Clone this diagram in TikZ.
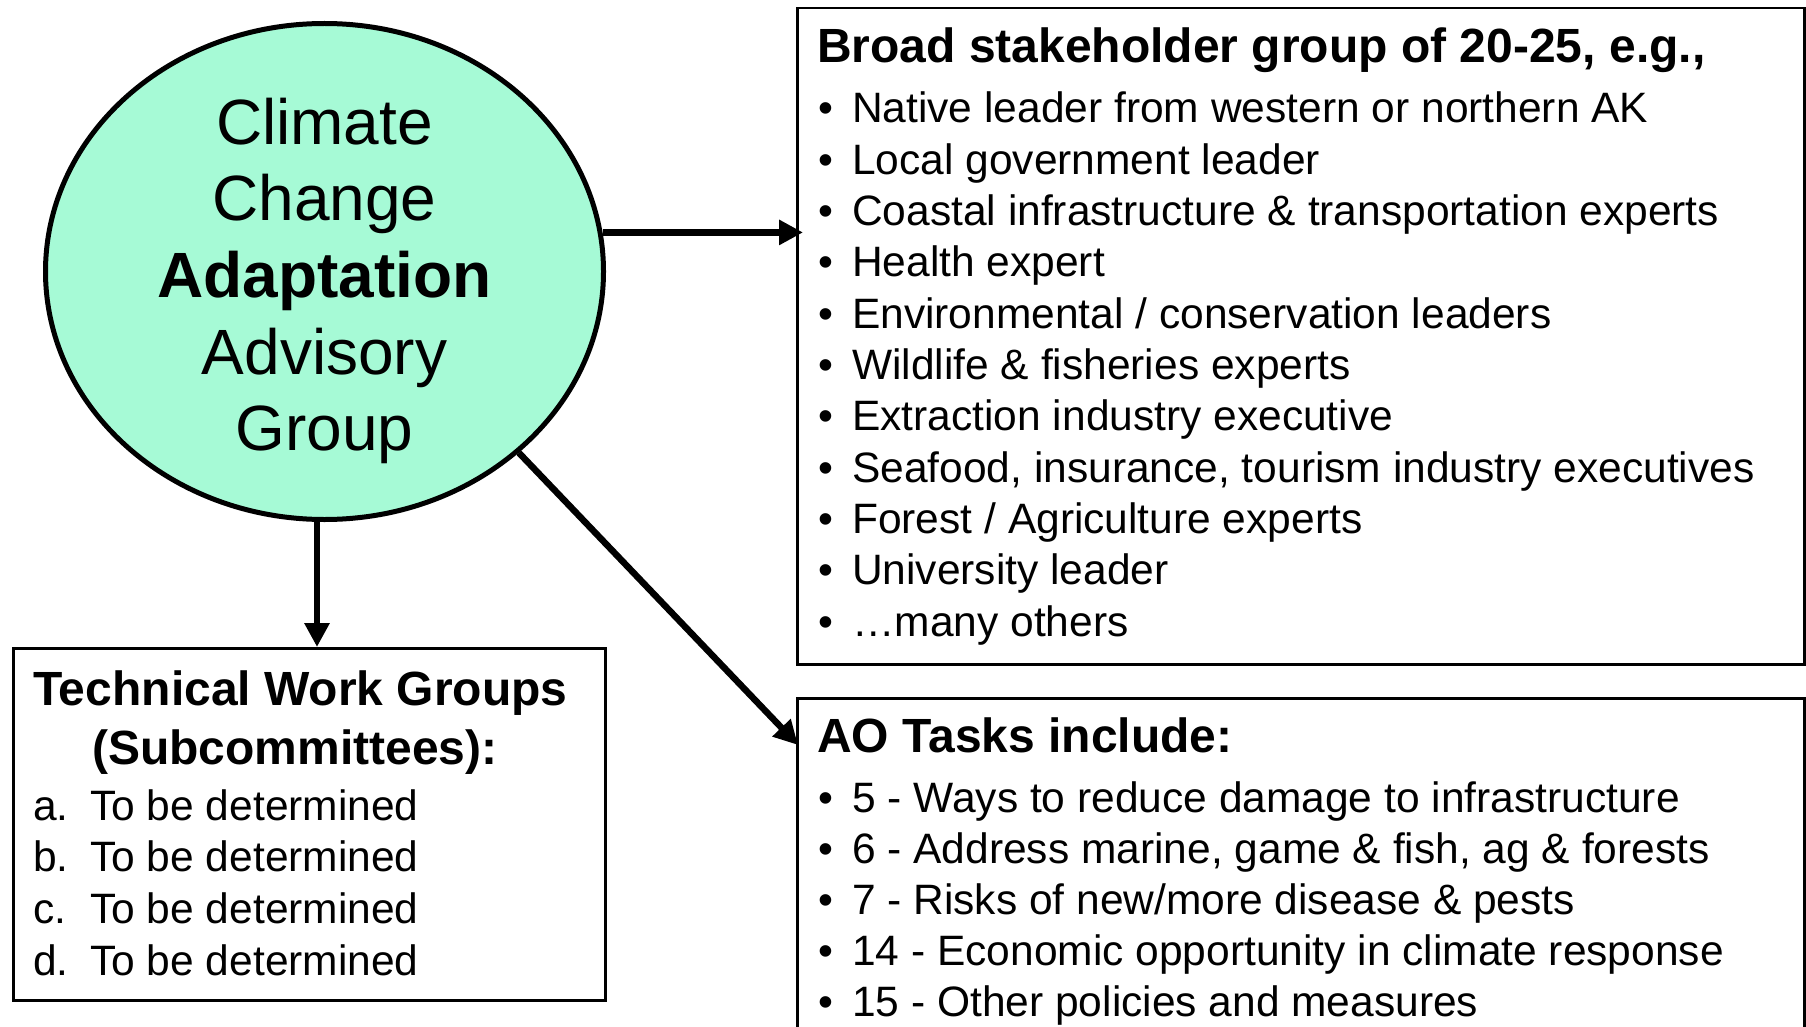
\documentclass[tikz,border=0pt]{standalone}
\usepackage{fontspec}
\setmainfont{Liberation Sans}
\usetikzlibrary{arrows.meta,shapes.geometric,calc}

\definecolor{mintfill}{RGB}{166,250,214}
\newcommand{\blt}{\makebox[34pt][l]{\textbullet}}
\newcommand{\lbl}[1]{\makebox[57pt][l]{#1}}

\tikzset{
  arr/.style={line width=6.5pt,-{Triangle[length=24pt,width=24pt]}},
  groupshape/.style={ellipse,draw,line width=5pt,fill=mintfill,minimum width=558pt,minimum height=496pt,inner sep=0pt},
  grouptext/.style={align=center,inner sep=0pt,font=\fontsize{64}{76.6}\selectfont},
  panel/.style={rectangle,draw,line width=2.5pt,anchor=north west,inner sep=0pt},
  head/.style={anchor=base west,inner sep=0pt,font=\fontsize{48}{56}\selectfont\bfseries},
  item/.style={anchor=base west,inner sep=0pt,font=\fontsize{42.5}{51}\selectfont},
}

\begin{document}
\begin{tikzpicture}[x=1pt,y=1pt,yscale=-1]
\useasboundingbox (0,0) rectangle (1806,1027);

%Shape: Ellipse
\node[groupshape] (advgroup) at (324.5,271.5) {};
\node[grouptext] (advtext) at (324.5,281) {Climate\\Change\\\textbf{Adaptation}\\Advisory\\Group};

%Shape: Rectangles
\node[panel,minimum width=1007pt,minimum height=656pt] (stake) at (796,7) {};
\node[panel,minimum width=1007pt,minimum height=345pt] (tasks) at (796,697) {};
\node[panel,minimum width=592pt,minimum height=352pt] (techwg) at (12,647) {};

% Text Node
\node[head] (stakehead) at (817,63) {Broad stakeholder group of 20-25, e.g.,};
\foreach \t [count=\i] in {Native leader from western or northern AK,
  Local government leader,
  Coastal infrastructure \& transportation experts,
  Health expert,
  Environmental / conservation leaders,
  Wildlife \& fisheries experts,
  Extraction industry executive,
  {Seafood, insurance, tourism industry executives},
  Forest / Agriculture experts,
  University leader,
  \dots many others}
  \node[item] (stake\i) at (818,{123+51.3*(\i-1)}) {\blt\t};

% Text Node
\node[head] (taskhead) at (817,752) {AO Tasks include:};
\foreach \t [count=\i] in {5 - Ways to reduce damage to infrastructure,
  {6 - Address marine, game \& fish, ag \& forests},
  7 - Risks of new/more disease \& pests,
  14 - Economic opportunity in climate response,
  15 - Other policies and measures}
  \node[item] (task\i) at (818,{812+51*(\i-1)}) {\blt\t};

% Text Node
\node[head] (techhead) at (33,705) {Technical Work Groups};
\node[head] (techhead2) at (92,764) {(Subcommittees):};
\foreach \l [count=\i] in {a.,b.,c.,d.}
  \node[item] (tech\i) at (33,{820+51.7*(\i-1)}) {\lbl{\l}To be determined};

%Straight Lines
\draw[arr] (advgroup.8) -- ($(advgroup.8 -| stake.west)+(7,0)$);
\draw[arr] (advgroup.south -| 317,0) -- (techwg.north -| 317,0);
\draw[arr] (advgroup.-43) -- ($(tasks.north west)+(2,48)$);

\end{tikzpicture}
\end{document}
